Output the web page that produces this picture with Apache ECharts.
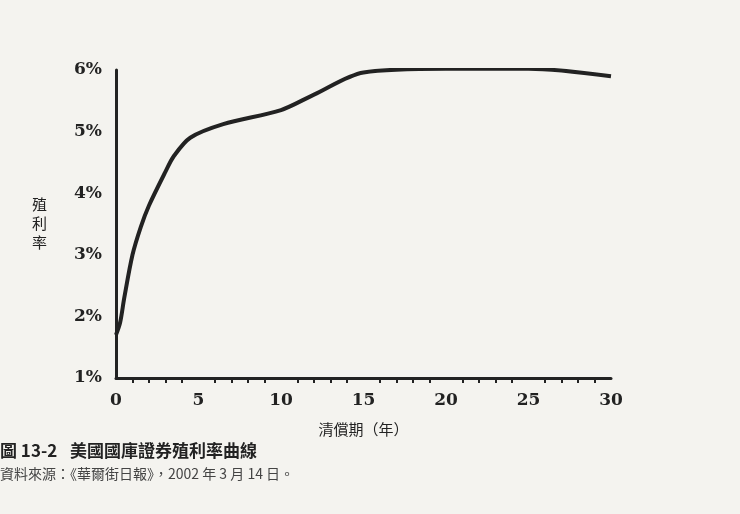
<!DOCTYPE html>
<html>
<head>
<meta charset="utf-8">
<script src="https://cdn.jsdelivr.net/npm/echarts@6/dist/echarts.min.js"></script>
<style>
  html, body { margin: 0; padding: 0; background: #f4f3ef; }
  #chart { width: 740px; height: 514px; }
</style>
</head>
<body>
<div id="chart"></div>
<script>
// 清償期（年）與殖利率（%）
var maturities = [0, 0.25, 0.5, 1, 1.5, 2, 3, 3.5, 4.5, 6.5, 10, 12, 15, 20, 25, 30];
var yields = [1.7, 1.9, 2.3, 3.0, 3.45, 3.8, 4.35, 4.6, 4.9, 5.12, 5.35, 5.6, 5.96, 6.02, 6.02, 5.9];
var yTicks = [1, 2, 3, 4, 5, 6];

var ink = '#222';
var chart = echarts.init(document.getElementById('chart'));

chart.setOption({
  backgroundColor: '#f4f3ef',
  animation: false,
  grid: { left: 116, right: 129, top: 70, bottom: 136 },
  xAxis: {
    type: 'value', min: 0, max: 30, interval: 5,
    axisLine: { lineStyle: { color: ink, width: 3 } },
    axisTick: { show: false },
    minorTick: { show: true, splitNumber: 5, length: 5, lineStyle: { color: ink, width: 2 } },
    splitLine: { show: false },
    axisLabel: { color: ink, fontSize: 17, fontWeight: 'bold', fontFamily: 'DejaVu Serif', margin: 14 },
    name: '清償期（年）', nameLocation: 'middle', nameGap: 44,
    nameTextStyle: { color: ink, fontSize: 15, fontFamily: 'Noto Sans CJK TC' }
  },
  yAxis: {
    type: 'value', min: 1, max: 6, interval: 1,
    axisLine: { show: true, lineStyle: { color: ink, width: 3 } },
    axisTick: { show: false },
    splitLine: { show: false },
    axisLabel: {
      color: ink, fontSize: 17, fontWeight: 'bold', fontFamily: 'DejaVu Serif', margin: 14,
      formatter: function (v) { return yTicks.indexOf(v) >= 0 ? v + '%' : ''; }
    }
  },
  graphic: [
    { type: 'text', left: 32, top: 195, style: { text: '殖\n利\n率', fill: ink, font: '15px "Noto Sans CJK TC"', lineHeight: 19 } },
    { type: 'text', left: 0, top: 442, style: { text: '圖 13-2', fill: ink, font: 'bold 17px "Noto Sans CJK TC"' } },
    { type: 'text', left: 70, top: 442, style: { text: '美國國庫證券殖利率曲線', fill: ink, font: 'bold 17px "Noto Sans CJK TC"' } },
    { type: 'text', left: 0, top: 467, style: { text: '資料來源：《華爾街日報》，2002 年 3 月 14 日。', fill: '#444', font: '14px "Noto Sans CJK TC"' } }
  ],
  series: [{
    type: 'line', smooth: 0.3, symbol: 'none',
    data: maturities.map(function (m, i) { return [m, yields[i]]; }),
    lineStyle: { color: ink, width: 4 }
  }]
});
</script>
</body>
</html>
